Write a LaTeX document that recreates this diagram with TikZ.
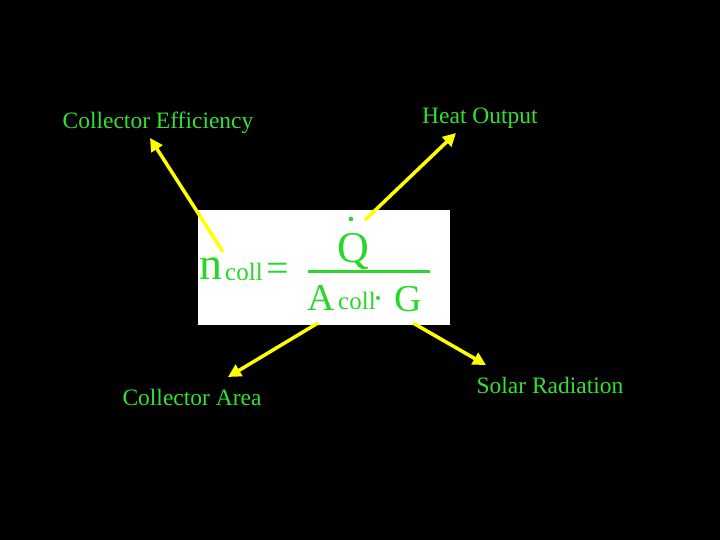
\documentclass[tikz,border=0pt]{standalone}
\usepackage{fontspec}
\setmainfont{Liberation Serif}
\usetikzlibrary{arrows.meta}
\definecolor{lblgreen}{RGB}{50,225,50}
\definecolor{eqgreen}{RGB}{40,215,40}
\definecolor{arrowyellow}{RGB}{255,255,0}
\tikzset{
  lbl/.style={text=lblgreen, font=\fontsize{23.5}{28}\selectfont, inner sep=0pt, anchor=base},
  eq/.style={text=eqgreen, inner sep=0pt, anchor=base west},
  yarrow/.style={draw=arrowyellow, line width=3.5pt, -{Triangle[length=13pt,width=13pt]}}
}
\begin{document}
\begin{tikzpicture}[x=1pt,y=-1pt]
\fill[black] (0,0) rectangle (720,540);
\useasboundingbox (0,0) rectangle (720,540);
% formula box
\node[fill=white, minimum width=252pt, minimum height=115pt, inner sep=0pt, anchor=north west] (box) at (198,210) {};
\node[eq, font=\fontsize{46}{50}\selectfont] (n) at (199,279) {n};
\node[eq, font=\fontsize{25}{28}\selectfont] (c1) at (225,280) {coll};
\node[eq, font=\fontsize{40}{44}\selectfont] (eqs) at (266,281) {=};
\node[eq, font=\fontsize{44}{48}\selectfont] (q) at (337,262) {Q};
\fill[eqgreen] (351,219) circle (2.3pt);
\draw[eqgreen, line width=3pt] (308,271) -- (430,271);
\node[eq, font=\fontsize{38}{42}\selectfont] (a) at (307,310) {A};
\node[eq, font=\fontsize{25}{28}\selectfont] (c2) at (338,309) {coll};
\fill[eqgreen] (378,298) circle (2pt);
\node[eq, font=\fontsize{38}{42}\selectfont] (g) at (394,311) {G};
% labels
\node[lbl] (eff) at (158,129) {Collector Efficiency};
\node[lbl] (heat) at (480,124) {Heat Output};
\node[lbl] (area) at (192,405) {Collector Area};
\node[lbl] (solar) at (550,393) {Solar Radiation};
% arrow coordinates
\coordinate (s1) at (223,252);
\coordinate (e1) at (150,138);
\coordinate (s2) at (365,220);
\coordinate (e2) at (456,133);
\coordinate (s3) at (318,323);
\coordinate (e3) at (228,377);
\coordinate (s4) at (413,323);
\coordinate (e4) at (486,365);
\draw[yarrow] (s1) -- (e1);
\draw[yarrow] (s2) -- (e2);
\draw[yarrow] (s3) -- (e3);
\draw[yarrow] (s4) -- (e4);
\end{tikzpicture}
\end{document}
